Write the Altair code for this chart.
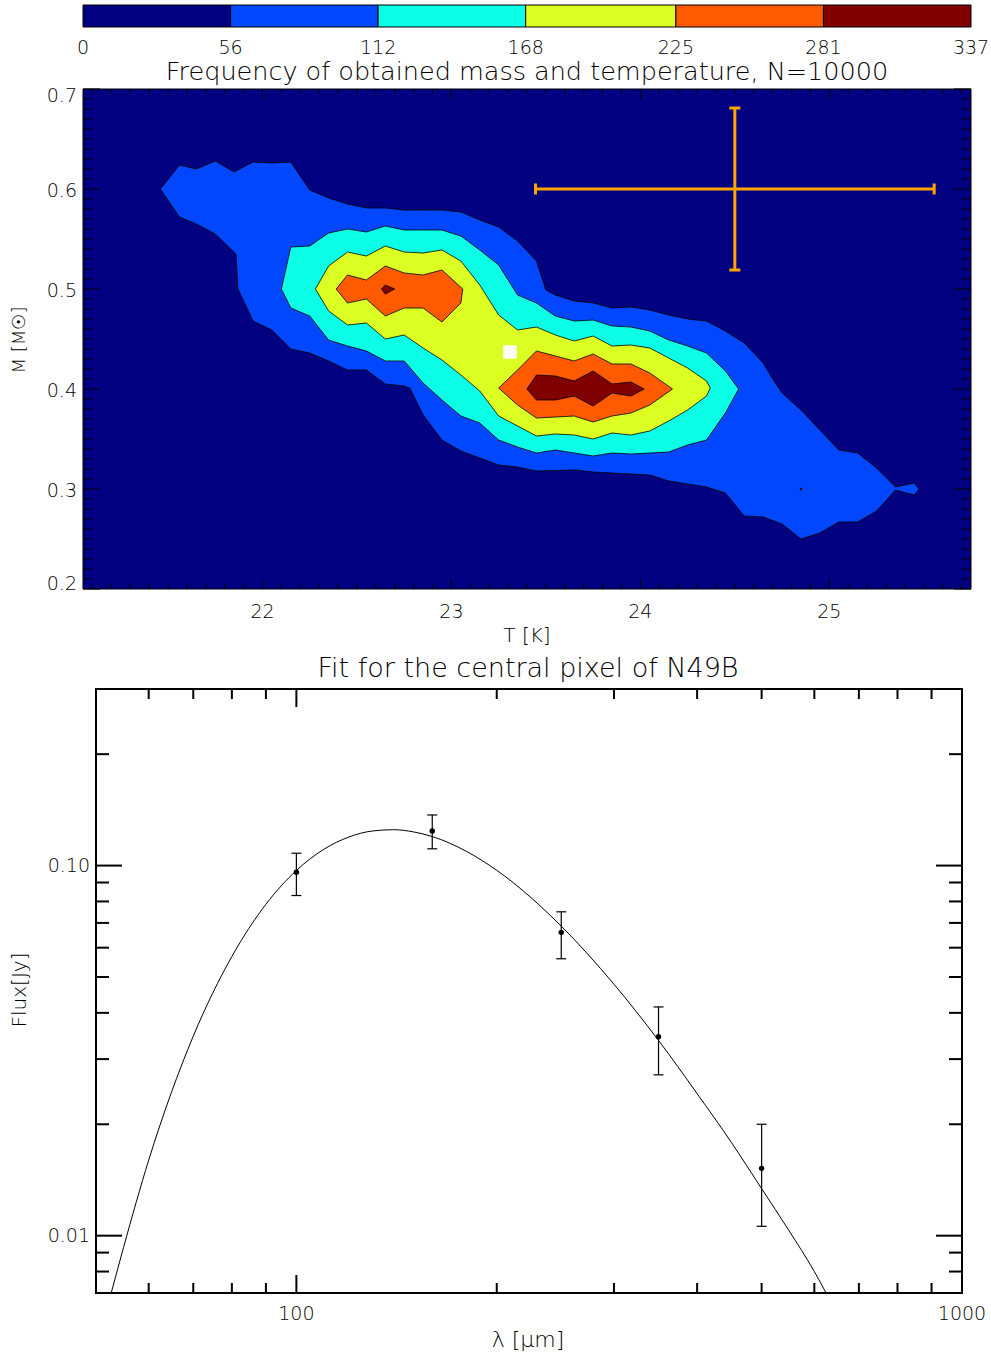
import altair as alt
import pandas as pd

FONT = "DejaVu Sans"
ORANGE = "#FFA500"

# ---------------- colour bar ----------------
cbar_edges = [0, 56, 112, 168, 225, 281, 337]
cbar_labels = ["0", "56", "112", "168", "225", "281", "337"]
level_colors = ["#000080", "#0047FF", "#0CFFE6", "#DBFF23", "#FF5A00", "#800000"]

# ---------------- contour panel ----------------
T_range = [21.05, 25.75]
M_range = [0.2, 0.7]
T_major = [22, 23, 24, 25]
T_labels = ["22", "23", "24", "25"]
M_major = [0.2, 0.3, 0.4, 0.5, 0.6, 0.7]
M_labels = ["0.2", "0.3", "0.4", "0.5", "0.6", "0.7"]
M_label_pos = [0.205, 0.298, 0.398, 0.498, 0.598, 0.693]
T_minor = [round(21.1 + 0.1 * k, 1) for k in range(47) if round((21.1 + 0.1 * k) % 1, 1) not in (0.0, 1.0)]
M_minor = [round(0.21 + 0.01 * k, 2) for k in range(49) if (21 + k) % 10 != 0]

level1_blue = [
    (21.46, 0.600), (21.56, 0.624), (21.65, 0.620), (21.75, 0.628), (21.85, 0.617),
    (21.95, 0.627), (22.05, 0.626), (22.15, 0.627), (22.25, 0.599), (22.35, 0.591),
    (22.45, 0.585), (22.55, 0.581), (22.65, 0.581), (22.75, 0.579), (22.85, 0.579),
    (22.95, 0.579), (23.05, 0.577), (23.15, 0.569), (23.25, 0.562), (23.35, 0.548),
    (23.45, 0.528), (23.50, 0.499), (23.55, 0.494), (23.65, 0.488), (23.75, 0.486),
    (23.85, 0.481), (23.95, 0.482), (24.05, 0.479), (24.15, 0.474), (24.25, 0.470),
    (24.35, 0.468), (24.45, 0.458), (24.55, 0.446), (24.65, 0.426), (24.70, 0.410),
    (24.75, 0.396), (24.85, 0.379), (24.95, 0.359), (25.05, 0.339), (25.15, 0.336),
    (25.25, 0.321), (25.35, 0.302), (25.45, 0.306), (25.475, 0.300), (25.45, 0.294),
    (25.35, 0.299), (25.25, 0.278), (25.15, 0.267), (25.05, 0.267), (24.95, 0.256),
    (24.85, 0.250), (24.75, 0.265), (24.65, 0.272), (24.55, 0.273), (24.45, 0.296),
    (24.35, 0.302), (24.25, 0.305), (24.15, 0.308), (24.05, 0.314), (23.75, 0.317),
    (23.65, 0.319), (23.45, 0.318), (23.35, 0.322), (23.25, 0.324), (23.15, 0.331),
    (23.05, 0.338), (22.95, 0.349), (22.85, 0.374), (22.78, 0.401), (22.75, 0.403),
    (22.65, 0.405), (22.55, 0.419), (22.45, 0.419), (22.35, 0.428), (22.25, 0.436),
    (22.15, 0.440), (22.05, 0.459), (21.95, 0.468), (21.87, 0.500), (21.86, 0.535),
    (21.75, 0.555), (21.65, 0.565), (21.56, 0.572),
]
level2_cyan = [
    (22.10, 0.500), (22.15, 0.542), (22.25, 0.543), (22.35, 0.556), (22.45, 0.560),
    (22.55, 0.557), (22.65, 0.563), (22.75, 0.559), (22.85, 0.559), (22.95, 0.559),
    (23.05, 0.553), (23.15, 0.539), (23.25, 0.524), (23.35, 0.494), (23.45, 0.486),
    (23.55, 0.473), (23.65, 0.468), (23.75, 0.469), (23.85, 0.463), (23.95, 0.462),
    (24.05, 0.458), (24.15, 0.449), (24.25, 0.443), (24.35, 0.436), (24.45, 0.418),
    (24.52, 0.400), (24.45, 0.376), (24.35, 0.349), (24.25, 0.344), (24.15, 0.337),
    (24.05, 0.336), (23.95, 0.335), (23.85, 0.336), (23.75, 0.333), (23.65, 0.336),
    (23.55, 0.339), (23.45, 0.336), (23.35, 0.342), (23.25, 0.349), (23.15, 0.366),
    (23.05, 0.373), (22.95, 0.389), (22.85, 0.406), (22.75, 0.428), (22.65, 0.428),
    (22.55, 0.438), (22.45, 0.443), (22.35, 0.449), (22.25, 0.473), (22.15, 0.481),
]
level3_yellow = [
    (22.28, 0.500), (22.35, 0.523), (22.45, 0.537), (22.55, 0.533), (22.65, 0.543),
    (22.75, 0.537), (22.85, 0.536), (22.95, 0.539), (23.05, 0.528), (23.15, 0.504),
    (23.25, 0.474), (23.35, 0.459), (23.45, 0.462), (23.55, 0.454), (23.65, 0.448),
    (23.75, 0.453), (23.85, 0.443), (23.95, 0.444), (24.05, 0.441), (24.15, 0.431),
    (24.25, 0.421), (24.35, 0.408), (24.37, 0.401), (24.35, 0.393), (24.25, 0.379),
    (24.15, 0.368), (24.05, 0.358), (23.95, 0.354), (23.85, 0.356), (23.75, 0.350),
    (23.65, 0.354), (23.55, 0.355), (23.45, 0.353), (23.35, 0.363), (23.25, 0.373),
    (23.15, 0.398), (23.05, 0.414), (22.95, 0.429), (22.85, 0.441), (22.75, 0.454),
    (22.65, 0.450), (22.55, 0.466), (22.45, 0.464), (22.35, 0.478),
]
level4_orange_a = [
    (22.39, 0.500), (22.45, 0.514), (22.55, 0.509), (22.65, 0.523), (22.75, 0.516),
    (22.85, 0.514), (22.95, 0.519), (23.06, 0.500), (23.05, 0.486), (22.95, 0.467),
    (22.85, 0.481), (22.75, 0.481), (22.65, 0.473), (22.55, 0.490), (22.45, 0.486),
]
level5_red_a = [(22.63, 0.500), (22.65, 0.504), (22.70, 0.500), (22.65, 0.495)]
level4_orange_b = [
    (23.25, 0.401), (23.35, 0.419), (23.45, 0.438), (23.55, 0.433), (23.65, 0.428),
    (23.75, 0.435), (23.85, 0.425), (23.95, 0.425), (24.05, 0.416), (24.17, 0.400),
    (24.05, 0.384), (23.95, 0.376), (23.85, 0.373), (23.75, 0.367), (23.65, 0.373),
    (23.55, 0.372), (23.45, 0.371), (23.35, 0.384),
]
level5_red_b = [
    (23.40, 0.400), (23.45, 0.414), (23.55, 0.413), (23.65, 0.408), (23.75, 0.418),
    (23.85, 0.405), (23.95, 0.407), (24.02, 0.400), (23.95, 0.393), (23.85, 0.396),
    (23.75, 0.383), (23.65, 0.393), (23.55, 0.389), (23.45, 0.389),
]
best_fit = [(23.31, 0.437)]
stray_dot = [(24.85, 0.300)]
err_center = (24.50, 0.600)
T_err = 1.055
M_err = 0.081

# ---------------- SED panel ----------------
lam_range = [50, 1000]
flux_range = [0.007, 0.3]
lam_major = [100]
lam_minor = [60, 70, 80, 90, 200, 300, 400, 500, 600, 700, 800, 900]
lam_labels_v = [100, 1000]
lam_labels = ["100", "1000"]
flux_major = [0.01, 0.1]
flux_minor = [0.008, 0.009, 0.02, 0.03, 0.04, 0.05, 0.06, 0.07, 0.08, 0.09, 0.2]
flux_labels = ["0.01", "0.10"]

wav = [100, 160, 250, 350, 500]
flux = [0.096, 0.124, 0.066, 0.0345, 0.0152]
flux_lo = [0.083, 0.111, 0.056, 0.0272, 0.0106]
flux_hi = [0.108, 0.137, 0.075, 0.0415, 0.0200]

fit_wav = [52.7, 55, 60, 70, 80, 90, 100, 110, 120, 130, 140, 150, 160, 180, 200,
           250, 300, 350, 400, 450, 500, 550, 600, 625]
fit_flux = [0.0070, 0.0093, 0.0160, 0.0346, 0.0568, 0.0786, 0.0970, 0.1107, 0.1195,
            0.1240, 0.1250, 0.1233, 0.1198, 0.1093, 0.0971, 0.0686, 0.0478, 0.0337,
            0.0242, 0.0179, 0.0134, 0.0103, 0.0080, 0.0070]

# ---------------- layout (pixels) ----------------
CB_TOP, CB_BOT = 5, 27
P1_L, P1_R, P1_T, P1_B = 83, 971, 89, 589
P2_L, P2_R, P2_T, P2_B = 96, 962, 689, 1293


def sT():
    return alt.Scale(domain=T_range, range=[P1_L, P1_R], nice=False, zero=False)


def sM():
    return alt.Scale(domain=M_range, range=[P1_B, P1_T], nice=False, zero=False)


def sC():
    return alt.Scale(domain=[cbar_edges[0], cbar_edges[-1]], range=[P1_L, P1_R], nice=False, zero=False)


def sL():
    return alt.Scale(type="log", domain=lam_range, range=[P2_L, P2_R], nice=False)


def sF():
    return alt.Scale(type="log", domain=flux_range, range=[P2_B, P2_T], nice=False)


layers = []

# colour bar
cb_df = pd.DataFrame({"lo": cbar_edges[:-1], "hi": cbar_edges[1:], "c": level_colors})
layers.append(
    alt.Chart(cb_df).mark_rect(stroke="black", strokeWidth=1).encode(
        x=alt.X("lo:Q", scale=sC(), axis=None), x2="hi:Q",
        y=alt.value(CB_TOP), y2=alt.value(CB_BOT),
        fill=alt.Fill("c:N", scale=None),
    )
)
layers.append(
    alt.Chart(pd.DataFrame({"v": cbar_edges, "t": cbar_labels})).mark_text(
        font=FONT, fontSize=19, fontWeight=300, baseline="middle", color="black"
    ).encode(x=alt.X("v:Q", scale=sC(), axis=None), y=alt.value(48), text="t:N")
)
layers.append(
    alt.Chart(pd.DataFrame({"t": ["Frequency of obtained mass and temperature, N=10000"]})).mark_text(
        font=FONT, fontSize=25.5, fontWeight=300, baseline="middle", color="black"
    ).encode(x=alt.value(527), y=alt.value(72), text="t:N")
)

# contour background
bg = pd.DataFrame({"T0": [T_range[0]], "T1": [T_range[1]], "M0": [M_range[0]], "M1": [M_range[1]]})
layers.append(
    alt.Chart(bg).mark_rect(color=level_colors[0]).encode(
        x=alt.X("T0:Q", scale=sT(), axis=None), x2="T1:Q",
        y=alt.Y("M0:Q", scale=sM(), axis=None), y2="M1:Q",
    )
)


def poly_layer(pts, color):
    closed = pts + [pts[0]]
    df = pd.DataFrame({"i": list(range(len(closed))),
                       "T": [p[0] for p in closed], "M": [p[1] for p in closed]})
    return alt.Chart(df).mark_line(fill=color, stroke="black", strokeWidth=0.8,
                                   strokeJoin="round").encode(
        x=alt.X("T:Q", scale=sT(), axis=None),
        y=alt.Y("M:Q", scale=sM(), axis=None),
        order=alt.Order("i:Q"),
    )


layers.append(poly_layer(level1_blue, level_colors[1]))
layers.append(poly_layer(level2_cyan, level_colors[2]))
layers.append(poly_layer(level3_yellow, level_colors[3]))
layers.append(poly_layer(level4_orange_a, level_colors[4]))
layers.append(poly_layer(level4_orange_b, level_colors[4]))
layers.append(poly_layer(level5_red_a, level_colors[5]))
layers.append(poly_layer(level5_red_b, level_colors[5]))

layers.append(
    alt.Chart(pd.DataFrame({"T": [p[0] for p in stray_dot], "M": [p[1] for p in stray_dot]}))
    .mark_circle(size=6, color="black", opacity=1)
    .encode(x=alt.X("T:Q", scale=sT(), axis=None), y=alt.Y("M:Q", scale=sM(), axis=None))
)
layers.append(
    alt.Chart(pd.DataFrame({"T": [p[0] for p in best_fit], "M": [p[1] for p in best_fit]}))
    .mark_square(size=180, color="white", opacity=1, filled=True)
    .encode(x=alt.X("T:Q", scale=sT(), axis=None), y=alt.Y("M:Q", scale=sM(), axis=None))
)

# orange error cross
Tc, Mc = err_center
hb = pd.DataFrame({"T0": [Tc - T_err], "T1": [Tc + T_err], "M": [Mc]})
vb = pd.DataFrame({"T": [Tc], "M0": [Mc - M_err], "M1": [Mc + M_err]})
layers.append(alt.Chart(hb).mark_rule(color=ORANGE, strokeWidth=3).encode(
    x=alt.X("T0:Q", scale=sT(), axis=None), x2="T1:Q", y=alt.Y("M:Q", scale=sM(), axis=None)))
layers.append(alt.Chart(vb).mark_rule(color=ORANGE, strokeWidth=3).encode(
    x=alt.X("T:Q", scale=sT(), axis=None), y=alt.Y("M0:Q", scale=sM(), axis=None), y2="M1:Q"))
layers.append(alt.Chart(pd.DataFrame({"T": [Tc, Tc], "M": [Mc - M_err, Mc + M_err]}))
              .mark_rule(color=ORANGE, strokeWidth=3, xOffset=-5.5, x2Offset=5.5).encode(
    x=alt.X("T:Q", scale=sT(), axis=None), x2="T:Q", y=alt.Y("M:Q", scale=sM(), axis=None)))
layers.append(alt.Chart(pd.DataFrame({"T": [Tc - T_err, Tc + T_err], "M": [Mc, Mc]}))
              .mark_rule(color=ORANGE, strokeWidth=3, yOffset=-5.5, y2Offset=5.5).encode(
    x=alt.X("T:Q", scale=sT(), axis=None), y=alt.Y("M:Q", scale=sM(), axis=None), y2="M:Q"))


def xticks(vals, scale, base, length, width=1.0):
    return alt.Chart(pd.DataFrame({"v": vals})).mark_rule(color="black", strokeWidth=width).encode(
        x=alt.X("v:Q", scale=scale, axis=None), y=alt.value(base), y2=alt.value(base + length))


def yticks(vals, scale, base, length, width=1.0):
    return alt.Chart(pd.DataFrame({"v": vals})).mark_rule(color="black", strokeWidth=width).encode(
        y=alt.Y("v:Q", scale=scale, axis=None), x=alt.value(base), x2=alt.value(base + length))


# contour frame + ticks
layers.append(alt.Chart(bg).mark_rect(fillOpacity=0, stroke="black", strokeWidth=1).encode(
    x=alt.X("T0:Q", scale=sT(), axis=None), x2="T1:Q",
    y=alt.Y("M0:Q", scale=sM(), axis=None), y2="M1:Q"))
layers += [
    xticks(T_major, sT(), P1_B, -10), xticks(T_minor, sT(), P1_B, -5),
    xticks(T_major, sT(), P1_T, 10), xticks(T_minor, sT(), P1_T, 5),
    yticks(M_major, sM(), P1_L, 17), yticks(M_minor, sM(), P1_L, 9),
    yticks(M_major, sM(), P1_R, -17), yticks(M_minor, sM(), P1_R, -9),
]
layers.append(alt.Chart(pd.DataFrame({"v": T_major, "t": T_labels})).mark_text(
    font=FONT, fontSize=19, fontWeight=300, baseline="middle", color="black").encode(
    x=alt.X("v:Q", scale=sT(), axis=None), y=alt.value(612), text="t:N"))
layers.append(alt.Chart(pd.DataFrame({"v": M_label_pos, "t": M_labels})).mark_text(
    font=FONT, fontSize=19, fontWeight=300, baseline="middle", align="right", color="black").encode(
    y=alt.Y("v:Q", scale=sM(), axis=None), x=alt.value(77), text="t:N"))
layers.append(alt.Chart(pd.DataFrame({"t": ["T [K]"]})).mark_text(
    font=FONT, fontSize=20, fontWeight=300, baseline="middle", color="black").encode(
    x=alt.value(527), y=alt.value(636), text="t:N"))
layers.append(alt.Chart(pd.DataFrame({"t": ["M [M\u2609]"]})).mark_text(
    font=FONT, fontSize=18, fontWeight=300, baseline="middle", angle=270, color="black").encode(
    x=alt.value(20), y=alt.value(340), text="t:N"))

# ---------------- SED panel ----------------
layers.append(alt.Chart(pd.DataFrame({"t": ["Fit for the central pixel of N49B"]})).mark_text(
    font=FONT, fontSize=27, fontWeight=300, baseline="middle", color="black").encode(
    x=alt.value(528), y=alt.value(669), text="t:N"))

frame2 = pd.DataFrame({"L0": [lam_range[0]], "L1": [lam_range[1]], "F0": [flux_range[0]], "F1": [flux_range[1]]})
layers.append(alt.Chart(frame2).mark_rect(fillOpacity=0, stroke="black", strokeWidth=2).encode(
    x=alt.X("L0:Q", scale=sL(), axis=None), x2="L1:Q",
    y=alt.Y("F0:Q", scale=sF(), axis=None), y2="F1:Q"))
layers += [
    xticks(lam_major, sL(), P2_B, -18, 2), xticks(lam_minor, sL(), P2_B, -10, 2),
    xticks(lam_major, sL(), P2_T, 18, 2), xticks(lam_minor, sL(), P2_T, 10, 2),
    yticks(flux_major, sF(), P2_L, 26, 2), yticks(flux_minor, sF(), P2_L, 13, 2),
    yticks(flux_major, sF(), P2_R, -26, 2), yticks(flux_minor, sF(), P2_R, -13, 2),
]

fit_df = pd.DataFrame({"lam": fit_wav, "f": fit_flux})
layers.append(alt.Chart(fit_df).mark_line(color="black", strokeWidth=1, interpolate="monotone").encode(
    x=alt.X("lam:Q", scale=sL(), axis=None), y=alt.Y("f:Q", scale=sF(), axis=None)))

obs = pd.DataFrame({"lam": wav, "f": flux, "lo": flux_lo, "hi": flux_hi})
layers.append(alt.Chart(obs).mark_rule(color="black", strokeWidth=1.2).encode(
    x=alt.X("lam:Q", scale=sL(), axis=None), y=alt.Y("lo:Q", scale=sF(), axis=None), y2="hi:Q"))
caps = pd.DataFrame({"lam": wav + wav, "f": flux_lo + flux_hi})
layers.append(alt.Chart(caps).mark_rule(color="black", strokeWidth=1.2, xOffset=-5, x2Offset=5).encode(
    x=alt.X("lam:Q", scale=sL(), axis=None), x2="lam:Q", y=alt.Y("f:Q", scale=sF(), axis=None)))
layers.append(alt.Chart(obs).mark_circle(size=30, color="black", opacity=1).encode(
    x=alt.X("lam:Q", scale=sL(), axis=None), y=alt.Y("f:Q", scale=sF(), axis=None)))

layers.append(alt.Chart(pd.DataFrame({"v": lam_labels_v, "t": lam_labels})).mark_text(
    font=FONT, fontSize=19, fontWeight=300, baseline="middle", color="black").encode(
    x=alt.X("v:Q", scale=sL(), axis=None), y=alt.value(1314), text="t:N"))
layers.append(alt.Chart(pd.DataFrame({"v": flux_major, "t": flux_labels})).mark_text(
    font=FONT, fontSize=19, fontWeight=300, baseline="middle", align="right", color="black").encode(
    y=alt.Y("v:Q", scale=sF(), axis=None), x=alt.value(90), text="t:N"))
layers.append(alt.Chart(pd.DataFrame({"t": ["\u03bb [\u03bcm]"]})).mark_text(
    font=FONT, fontSize=22, fontWeight=300, baseline="middle", color="black").encode(
    x=alt.value(528), y=alt.value(1340), text="t:N"))
layers.append(alt.Chart(pd.DataFrame({"t": ["Flux[Jy]"]})).mark_text(
    font=FONT, fontSize=20, fontWeight=300, baseline="middle", angle=270, color="black").encode(
    x=alt.value(20), y=alt.value(990), text="t:N"))

chart = (
    alt.layer(*layers)
    .resolve_scale(x="independent", y="independent")
    .properties(width=991, height=1356, padding=0, autosize=alt.AutoSizeParams(type="none"),
                background="white")
    .configure_view(stroke=None)
)

chart.save("out.html", embed_options={"renderer": "svg", "actions": False})
